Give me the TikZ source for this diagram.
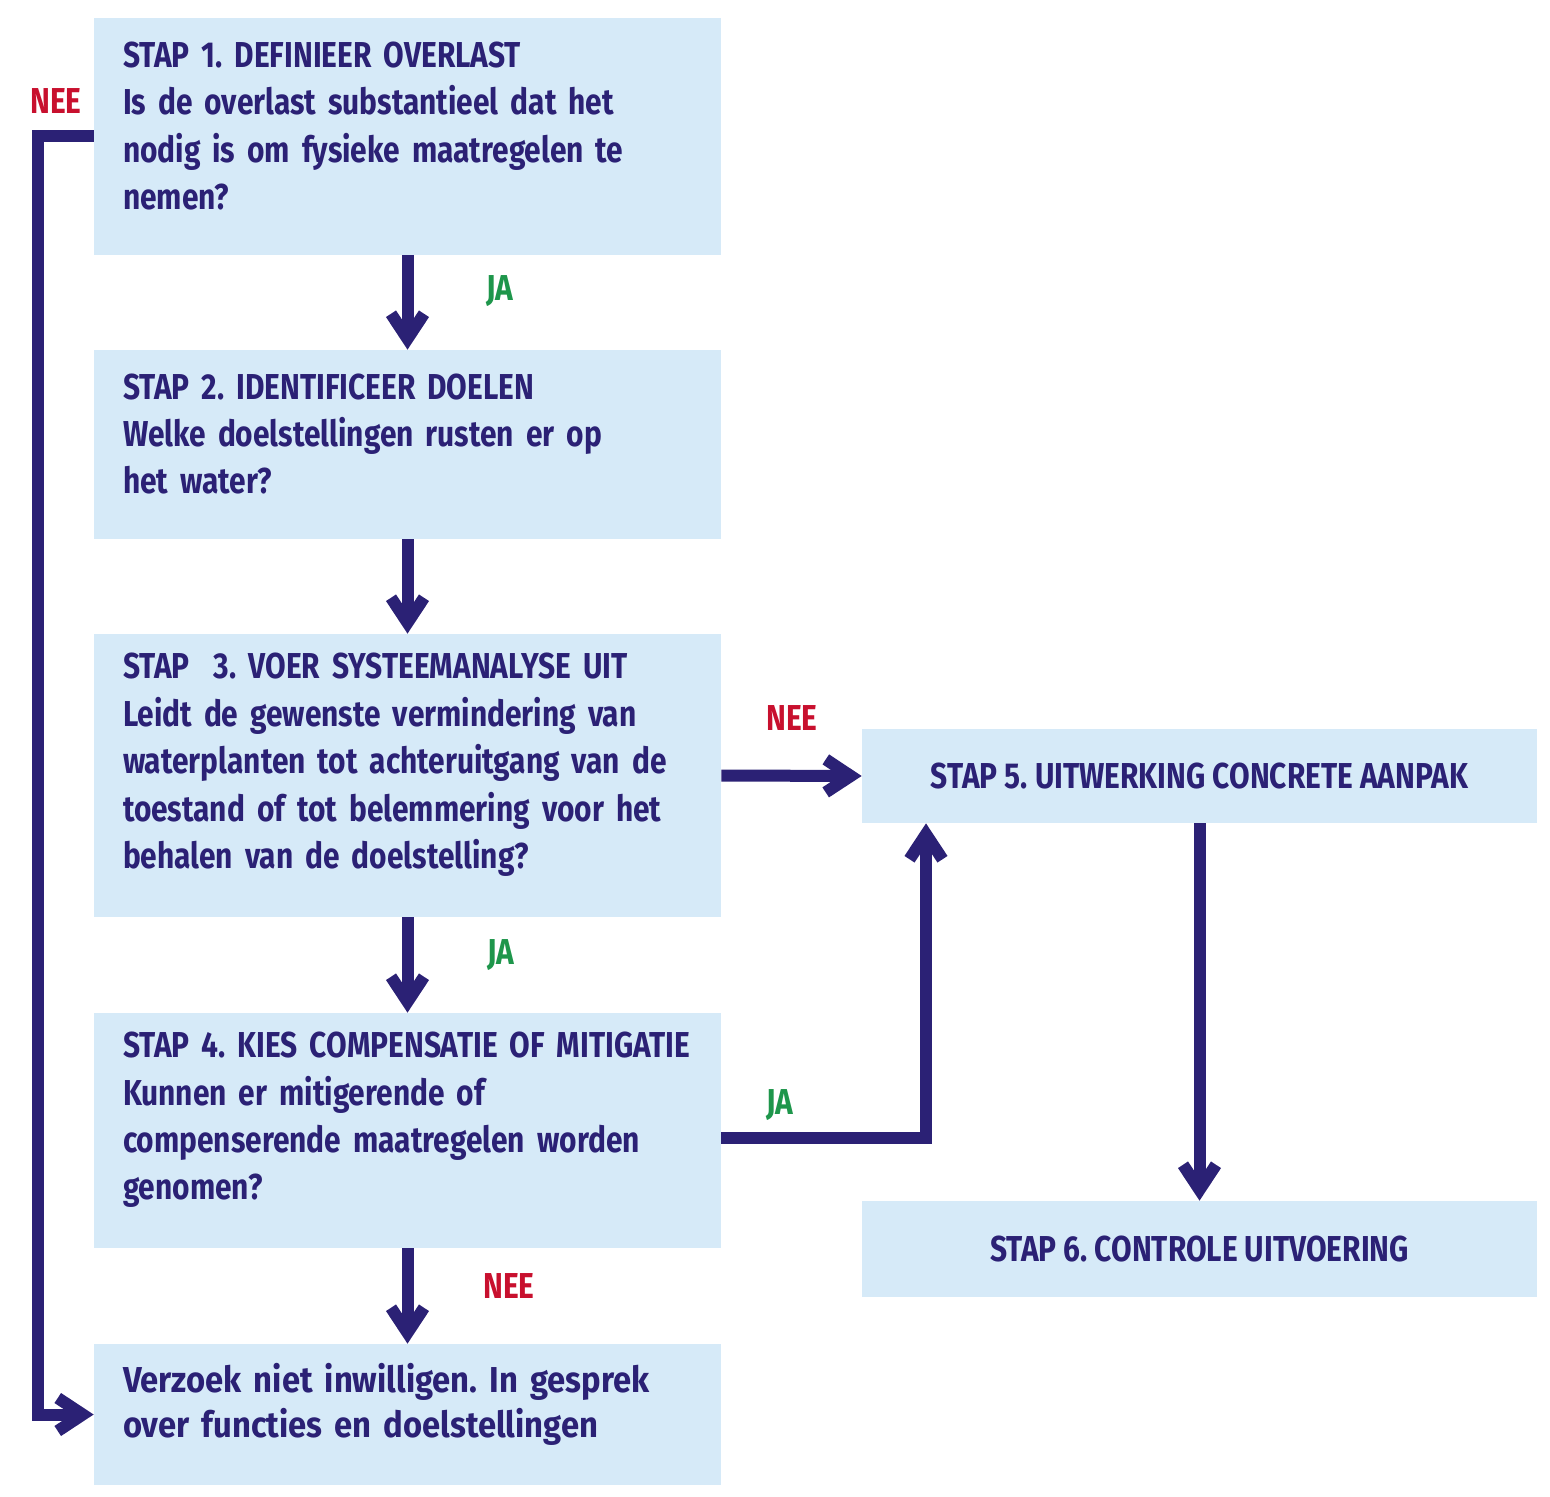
\documentclass[tikz,border=0pt]{standalone}
\usepackage{fontspec}
\setmainfont{Fira Sans}[FakeStretch=0.83]
\usepackage{tikz}
\usetikzlibrary{arrows.meta}
\frenchspacing

\definecolor{navy}{RGB}{43,33,117}
\definecolor{lichtblauw}{RGB}{214,234,248}
\definecolor{neerood}{RGB}{200,16,46}
\definecolor{jagroen}{RGB}{30,150,75}
\newcommand{\stapruimte}{\par\vspace{0.42cm}}

\begin{document}
\begin{tikzpicture}[
		stap/.style={rectangle, fill=lichtblauw, text=navy, inner xsep=0.58cm, inner ysep=0pt, align=left, text width=11.38cm, font=\bfseries\fontsize{20.5}{27}\selectfont, execute at end node=\stapruimte},
		stapkort/.style={rectangle, fill=lichtblauw, text=navy, minimum width=13.5cm, align=center, font=\bfseries\fontsize{20.5}{27}\selectfont},
		pijl/.style={draw=navy, line width=0.24cm, line join=miter, -{Straight Barb[length=0.5cm, width=0.66cm]}},
		nee/.style={text=neerood, font=\bfseries\fontsize{20.5}{27}\selectfont},
		ja/.style={text=jagroen, font=\bfseries\fontsize{20.5}{27}\selectfont}
	]
				\useasboundingbox (0,0) rectangle (31,-29.94);

				\node[stap, minimum height=4.74cm] (s1) at (8.15,-2.73) {STAP 1. DEFINIEER OVERLAST\\Is de overlast substantieel dat het\\nodig is om fysieke maatregelen te\\nemen?};
				\node[stap, minimum height=3.78cm] (s2) at (8.15,-8.89) {STAP 2. IDENTIFICEER DOELEN\\Welke doelstellingen rusten er op\\het water?};
				\node[stap, minimum height=5.66cm] (s3) at (8.15,-15.51) {STAP~~3. VOER SYSTEEMANALYSE UIT\\Leidt de gewenste vermindering van\\waterplanten tot achteruitgang van de\\toestand of tot belemmering voor het\\behalen van de doelstelling?};
				\node[stap, minimum height=4.70cm] (s4) at (8.15,-22.61) {STAP 4. KIES COMPENSATIE OF MITIGATIE\\Kunnen er mitigerende of\\compenserende maatregelen worden\\genomen?};
				\node[stap, minimum height=2.82cm, font=\bfseries\fontsize{20.5}{25.5}\selectfont\addfontfeature{FakeStretch=0.91}] (s7) at (8.15,-28.29) {Verzoek niet inwilligen. In gesprek\\over functies en doelstellingen};
				\node[stapkort, minimum height=1.88cm] (s5) at (23.99,-15.52) {STAP 5. UITWERKING CONCRETE AANPAK};
				\node[stapkort, minimum height=1.92cm] (s6) at (23.99,-24.98) {STAP 6. CONTROLE UITVOERING};

				\coordinate (links) at (0.76,0); % lijn links
				\coordinate (knik) at (18.52,-22.76); % knik naar stap 5

				\draw[pijl] (s1.south) -- (s2.north); % 1 naar 2
				\draw[pijl] (s2.south) -- (s3.north); % 2 naar 3
				\draw[pijl] (s3.south) -- (s4.north); % 3 naar 4
				\draw[pijl] (s4.south) -- (s7.north); % 4 naar verzoek
				\draw[pijl] (s3.east) -- (s5.west); % 3 naar 5
				\draw[pijl] (s4.east |- knik) -- (knik) -- (knik |- s5.south); % 4 naar 5
				\draw[pijl] (s5.south) -- (s6.north); % 5 naar 6
				\draw[pijl] (s1.west) -- (s1.west -| links) -- (s7.west -| links) -- (s7.west); % 1 naar verzoek

				\node[nee] (n1) at (1.12,-2.02) {NEE};
				\node[ja] (j1) at (10.0,-5.82) {JA};
				\node[ja] (j3) at (10.02,-19.1) {JA};
				\node[nee] (n4) at (10.18,-25.72) {NEE};
				\node[nee] (n3) at (15.84,-14.36) {NEE};
				\node[ja] (j4) at (15.6,-22.1) {JA};
\end{tikzpicture}
\end{document}
